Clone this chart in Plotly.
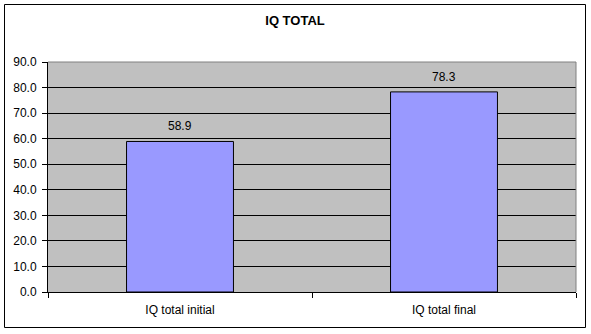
import plotly.graph_objects as go

categories = ["IQ total initial", "IQ total final"]
values = [58.9, 78.3]
title_text = "IQ TOTAL"

W, H = 591, 334
L, R, T, B = 48, 15, 62, 42
pw, ph = W - L - R, H - T - B

def px_x(x):
    return (x - L) / pw

def px_y(y):
    return (H - B - y) / ph

FONT = "Arial, Liberation Sans, sans-serif"

fig = go.Figure()
fig.add_trace(go.Bar(
    x=categories, y=values,
    marker=dict(color="#9999FF", line=dict(color="black", width=1)),
))

for c, v in zip(categories, values):
    fig.add_annotation(x=c, y=v, text=f"{v:.1f}", showarrow=False,
                       xanchor="center", yanchor="bottom", yshift=6,
                       font=dict(family=FONT, size=12, color="black"))

fig.update_layout(
    width=W, height=H,
    margin=dict(l=L, r=R, t=T, b=B),
    paper_bgcolor="white", plot_bgcolor="#C0C0C0",
    bargap=0.595,
    showlegend=False,
    font=dict(family=FONT, size=12, color="black"),
    title=dict(text="<b>" + title_text + "</b>", x=px_x(295), xref="paper",
               xanchor="center", y=1 - 20 / H, yanchor="middle",
               font=dict(family=FONT, size=13, color="black")),
    xaxis=dict(showline=True, linecolor="black", linewidth=1,
               ticks="outside", ticklen=5, tickcolor="black", tickson="boundaries",
               showgrid=False, tickfont=dict(size=12), ticklabelstandoff=7),
    yaxis=dict(range=[0, 90], dtick=10, tickformat=".1f",
               showline=True, linecolor="black", linewidth=1,
               ticks="outside", ticklen=5, tickcolor="black",
               showgrid=True, gridcolor="black", gridwidth=1,
               zeroline=False, tickfont=dict(size=12), ticklabelstandoff=3),
)

# plot area top/right gray border
fig.add_shape(type="line", xref="paper", yref="paper", x0=0, x1=1, y0=1, y1=1,
              line=dict(color="#808080", width=1), layer="above")
fig.add_shape(type="line", xref="paper", yref="paper", x0=1, x1=1, y0=0, y1=1,
              line=dict(color="#808080", width=1), layer="above")
# outer chart border
fig.add_shape(type="rect", xref="paper", yref="paper",
              x0=px_x(4.5), x1=px_x(585.5), y0=px_y(327.5), y1=px_y(4.5),
              line=dict(color="black", width=1), layer="above")

fig.write_html("out.html")
